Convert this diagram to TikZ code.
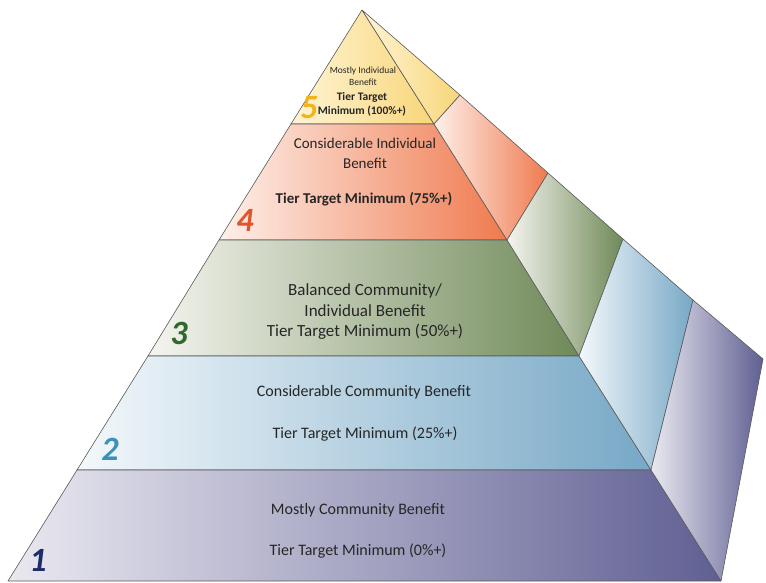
\documentclass[tikz,border=0pt]{standalone}
\usepackage{fontspec}
\setmainfont{Carlito}
\usetikzlibrary{calc}

\definecolor{yelA}{HTML}{FFF4D6}
\definecolor{yelB}{HTML}{F8D678}
\definecolor{oraA}{HTML}{FEF0EA}
\definecolor{oraB}{HTML}{EF7A4E}
\definecolor{grnA}{HTML}{F5F5EF}
\definecolor{grnB}{HTML}{6F8958}
\definecolor{bluA}{HTML}{F3F8FB}
\definecolor{bluB}{HTML}{77A8C6}
\definecolor{purA}{HTML}{EAE9F1}
\definecolor{purB}{HTML}{5F5F93}
\definecolor{numfive}{HTML}{F2B31C}
\definecolor{numfour}{HTML}{E0552C}
\definecolor{numthree}{HTML}{2E6A2E}
\definecolor{numtwo}{HTML}{3B92B8}
\definecolor{numone}{HTML}{1E2C6A}

\begin{document}
\begin{tikzpicture}[x=1pt,y=-1pt,
		face/.style={draw=black!65, line width=.6pt, line join=round},
		lbl/.style={align=center, text=black!85, inner sep=0pt, font=\fontsize{16}{20}\selectfont},
		num/.style={inner sep=0pt, font=\fontsize{34}{34}\selectfont\bfseries\itshape}]
		\useasboundingbox (0,0) rectangle (766,582);
		
		% corners of the pyramid
		\coordinate (top) at (362,10);
		\coordinate (l4) at (291,124); \coordinate (r4) at (434,124); \coordinate (b4) at (460,95);
		\coordinate (l3) at (219,240); \coordinate (r3) at (507,240); \coordinate (b3) at (548,173);
		\coordinate (l2) at (148,356); \coordinate (r2) at (579,356); \coordinate (b2) at (623,239);
		\coordinate (l1) at (77,470);  \coordinate (r1) at (651,470); \coordinate (b1) at (693,300);
		\coordinate (l0) at (8,581);   \coordinate (r0) at (721,581); \coordinate (b0) at (763,359);
		
		% front faces
		\draw [face, left color=yelA, right color=yelB] (top) -- (r4) -- (l4) -- cycle;
		\draw [face, left color=oraA, right color=oraB] (l4) -- (r4) -- (r3) -- (l3) -- cycle;
		\draw [face, left color=grnA, right color=grnB] (l3) -- (r3) -- (r2) -- (l2) -- cycle;
		\draw [face, left color=bluA, right color=bluB] (l2) -- (r2) -- (r1) -- (l1) -- cycle;
		\draw [face, left color=purA, right color=purB] (l1) -- (r1) -- (r0) -- (l0) -- cycle;
		
		% side faces
		\draw [face, left color=yelA, right color=yelB] (top) -- (b4) -- (r4) -- cycle;
		\draw [face, left color=oraA, right color=oraB] (r4) -- (b4) -- (b3) -- (r3) -- cycle;
		\draw [face, left color=grnA, right color=grnB] (r3) -- (b3) -- (b2) -- (r2) -- cycle;
		\draw [face, left color=bluA, right color=bluB] (r2) -- (b2) -- (b1) -- (r1) -- cycle;
		\draw [face, left color=purA, right color=purB] (r1) -- (b1) -- (b0) -- (r0) -- cycle;
		
		% tier 5
		\node [lbl, font=\fontsize{9.5}{12}\selectfont] (t5a) at (363,76) {Mostly Individual\\Benefit};
		\node [lbl, font=\fontsize{11.5}{14}\selectfont\bfseries] (t5b) at (362,104) {Tier Target\\Minimum (100\%+)};
		\node [num, text=numfive] (n5) at (309,108) {5};
		
		% tier 4
		\node [lbl, font=\fontsize{15}{20}\selectfont] (t4a) at (365,153) {Considerable Individual\\Benefit};
		\node [lbl, font=\fontsize{15}{17}\selectfont\bfseries] (t4b) at (364,199) {Tier Target Minimum (75\%+)};
		\node [num, text=numfour] (n4) at (245,220) {4};
		
		% tier 3
		\node [lbl, font=\fontsize{17}{20.5}\selectfont] (t3) at (365,312) {Balanced Community/\\Individual Benefit\\Tier Target Minimum (50\%+)};
		\node [num, text=numthree] (n3) at (179,333) {3};
		
		% tier 2
		\node [lbl] (t2a) at (364,392) {Considerable Community Benefit};
		\node [lbl] (t2b) at (365,434) {Tier Target Minimum (25\%+)};
		\node [num, text=numtwo] (n2) at (110,449) {2};
		
		% tier 1
		\node [lbl] (t1a) at (358,510) {Mostly Community Benefit};
		\node [lbl] (t1b) at (358,551) {Tier Target Minimum (0\%+)};
		\node [num, text=numone] (n1) at (38,560) {1};
\end{tikzpicture}
\end{document}
